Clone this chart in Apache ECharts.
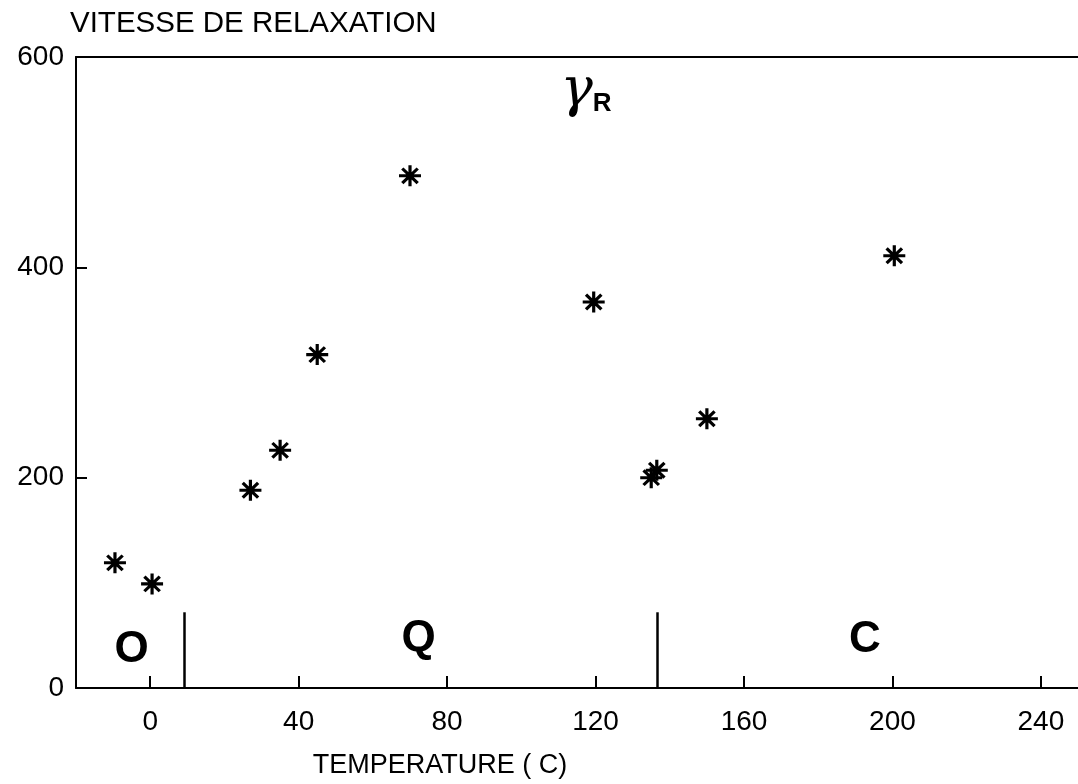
<!DOCTYPE html>
<html><head><meta charset="utf-8">
<script src="https://cdn.jsdelivr.net/npm/echarts@6/dist/echarts.min.js"></script>
<style>html,body{margin:0;padding:0;background:#fff}#c{width:1078px;height:784px}</style>
</head><body><div id="c"></div>
<script>
// ---- data ----
const temperature = [-9.5, 0.5, 27, 35, 45, 70, 119.5, 135, 136.5, 150, 200.5];
const rate        = [119, 99, 188, 226, 317, 487, 367, 200, 207, 256, 411];
const xTicks = [0, 40, 80, 120, 160, 200, 240];
const yTicks = [0, 200, 400, 600];
const regionBoundaries = [9.3, 136.5];
const regionLineTop = 72;
const regionNames = ['O', 'Q', 'C'];
const regionNameX = [-5, 72.3, 192.6];
const regionNameY = [36, 47, 46];
const yTitle = 'VITESSE DE RELAXATION';
const xTitle = 'TEMPERATURE ( C)';
const curveLabel = ['γ', 'R'];
const curveLabelPos = [117.4, 567];

// ---- chart ----
const FONT = '"Liberation Sans", Arial, sans-serif';
const w = 1.45, d = 0.72 * w;
const asterisk = 'path://' +
  `M-10,${-w}L10,${-w}L10,${w}L-10,${w}Z` +
  `M${-w},-10L${w},-10L${w},10L${-w},10Z` +
  `M${-7 + d},${-7 - d}L${7 + d},${7 - d}L${7 - d},${7 + d}L${-7 - d},${-7 + d}Z` +
  `M${-7 - d},${7 - d}L${7 - d},${-7 - d}L${7 + d},${-7 + d}L${-7 + d},${7 + d}Z`;

const chart = echarts.init(document.getElementById('c'), null, {renderer: 'canvas'});
const black = '#000';
chart.setOption({
  animation: false,
  backgroundColor: '#fff',
  grid: {left: 76, right: -4, top: 57, bottom: 87},
  xAxis: [{
    type: 'value', min: -20, max: 250,
    axisLine: {show: true, onZero: false, lineStyle: {color: black, width: 2}},
    axisTick: {show: true, inside: true, length: 12, customValues: xTicks, lineStyle: {color: black, width: 2}},
    axisLabel: {customValues: xTicks, margin: 20, fontSize: 28, color: black, fontFamily: FONT},
    splitLine: {show: false},
    name: xTitle, nameLocation: 'middle', nameGap: 64,
    nameTextStyle: {fontSize: 27, color: black, fontFamily: FONT, padding: [0, 274, 0, 0]}
  }, {
    type: 'value', min: -20, max: 250, position: 'top',
    axisLine: {show: true, onZero: false, lineStyle: {color: black, width: 2}},
    axisTick: {show: false}, axisLabel: {show: false}, splitLine: {show: false}
  }],
  yAxis: {
    type: 'value', min: 0, max: 600, interval: 200,
    axisLine: {show: true, onZero: false, lineStyle: {color: black, width: 2}},
    axisTick: {show: true, inside: true, length: 11, lineStyle: {color: black, width: 2}},
    axisLabel: {margin: 12, fontSize: 28, color: black, fontFamily: FONT},
    splitLine: {show: false},
    name: yTitle, nameLocation: 'end', nameGap: 33,
    nameTextStyle: {fontSize: 29.5, color: black, fontFamily: FONT, align: 'left', verticalAlign: 'middle', padding: [0, 0, 0, -6]}
  },
  series: [{
    type: 'scatter',
    xAxisIndex: 0,
    data: temperature.map((t, i) => [t, rate[i]]),
    symbol: asterisk,
    symbolSize: [22, 21],
    itemStyle: {color: black, opacity: 1},
    markLine: {
      silent: true, symbol: ['none', 'none'],
      label: {show: false},
      lineStyle: {color: black, width: 2.5, type: 'solid', opacity: 1},
      data: regionBoundaries.map(x => [{coord: [x, 0]}, {coord: [x, regionLineTop]}])
    }
  }, {
    type: 'scatter',
    xAxisIndex: 0,
    symbolSize: 0,
    silent: true,
    clip: false,
    itemStyle: {color: black, opacity: 1},
    data: regionNames.map((n, i) => ({name: n, value: [regionNameX[i], regionNameY[i]]})),
    label: {show: true, position: 'inside', formatter: '{b}', fontSize: 44, fontWeight: 'bold', color: black, opacity: 1, fontFamily: FONT}
  }, {
    type: 'scatter',
    xAxisIndex: 0,
    symbolSize: 0,
    silent: true,
    itemStyle: {color: black, opacity: 1},
    data: [{name: curveLabel.join(''), value: curveLabelPos}],
    label: {
      show: true, position: 'inside', opacity: 1,
      formatter: '{g|' + curveLabel[0] + '}{r|' + curveLabel[1] + '}',
      rich: {
        g: {fontSize: 54, fontStyle: 'italic', fontFamily: '"DejaVu Serif", serif', color: black, verticalAlign: 'middle'},
        r: {fontSize: 26, fontWeight: 'bold', fontFamily: FONT, color: black, padding: [24, 0, 0, 0]}
      }
    }
  }]
});
</script>
</body></html>
